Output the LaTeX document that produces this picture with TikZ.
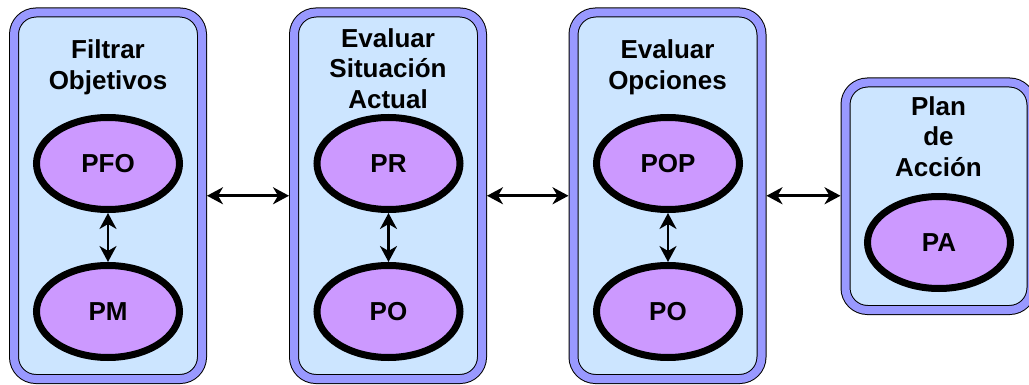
\documentclass[tikz,border=0pt]{standalone}
\usepackage{fontspec}
\setmainfont{Liberation Sans}
\usetikzlibrary{arrows.meta,shapes.geometric}
\definecolor{boxfill}{HTML}{CCE5FF}
\definecolor{boxband}{HTML}{9999FF}
\definecolor{ovalfill}{HTML}{CC99FF}
\begin{document}
\begin{tikzpicture}[x=1pt,y=-1pt,
  stage/.style={draw=black, line width=1pt, double=boxband, double distance=8pt,
    fill=boxfill, rounded corners=22pt, outer sep=5pt, inner sep=0pt},
  stagetitle/.style={font=\bfseries\fontsize{26}{30.5}\selectfont, align=center, inner sep=0pt},
  oval/.style={ellipse, draw=black, line width=7pt, fill=ovalfill,
    minimum width=143pt, minimum height=92pt, inner sep=0pt,
    font=\bfseries\fontsize{26}{30}\selectfont},
  link/.style={line width=2.5pt,
    {Stealth[length=16pt,width=17pt,inset=5pt]}-{Stealth[length=16pt,width=17pt,inset=5pt]}}
]
\useasboundingbox (0,0) rectangle (1029,385);
\clip (0,0) rectangle (1029,385);

% stage containers
\node[stage, minimum width=188pt, minimum height=366.5pt] (b1) at (108,195.75) {};
\node[stage, minimum width=188pt, minimum height=366.5pt] (b2) at (388,195.75) {};
\node[stage, minimum width=188pt, minimum height=366.5pt] (b3) at (667.5,195.75) {};
\node[stage, minimum width=186pt, minimum height=227.5pt] (b4) at (938.5,196.25) {};

% stage titles
\node[stagetitle] (t1) at ([yshift=-60pt]b1.north) {Filtrar\\Objetivos};
\node[stagetitle] (t2) at ([yshift=-61pt]b2.north) {Evaluar\\Situación\\Actual};
\node[stagetitle] (t3) at ([yshift=-60pt]b3.north) {Evaluar\\Opciones};
\node[stagetitle] (t4) at ([yshift=-59pt]b4.north) {Plan\\de\\Acción};

% inner processes
\node[oval] (pfo) at (108,163.5) {PFO};
\node[oval] (pm)  at (108,311.5) {PM};
\node[oval] (pr)  at (388.5,163.5) {PR};
\node[oval] (po1) at (388.5,311.5) {PO};
\node[oval] (pop) at (668,163.5) {POP};
\node[oval] (po2) at (668,311.5) {PO};
\node[oval] (pa)  at (939,242.5) {PA};

% links inside stages
\draw[link] (pfo) -- (pm);
\draw[link] (pr) -- (po1);
\draw[link] (pop) -- (po2);

% links between stages
\draw[link] (b1.east) -- (b2.west);
\draw[link] (b2.east) -- (b3.west);
\draw[link] (b3.east) -- (b3.east -| b4.west);
\end{tikzpicture}
\end{document}
